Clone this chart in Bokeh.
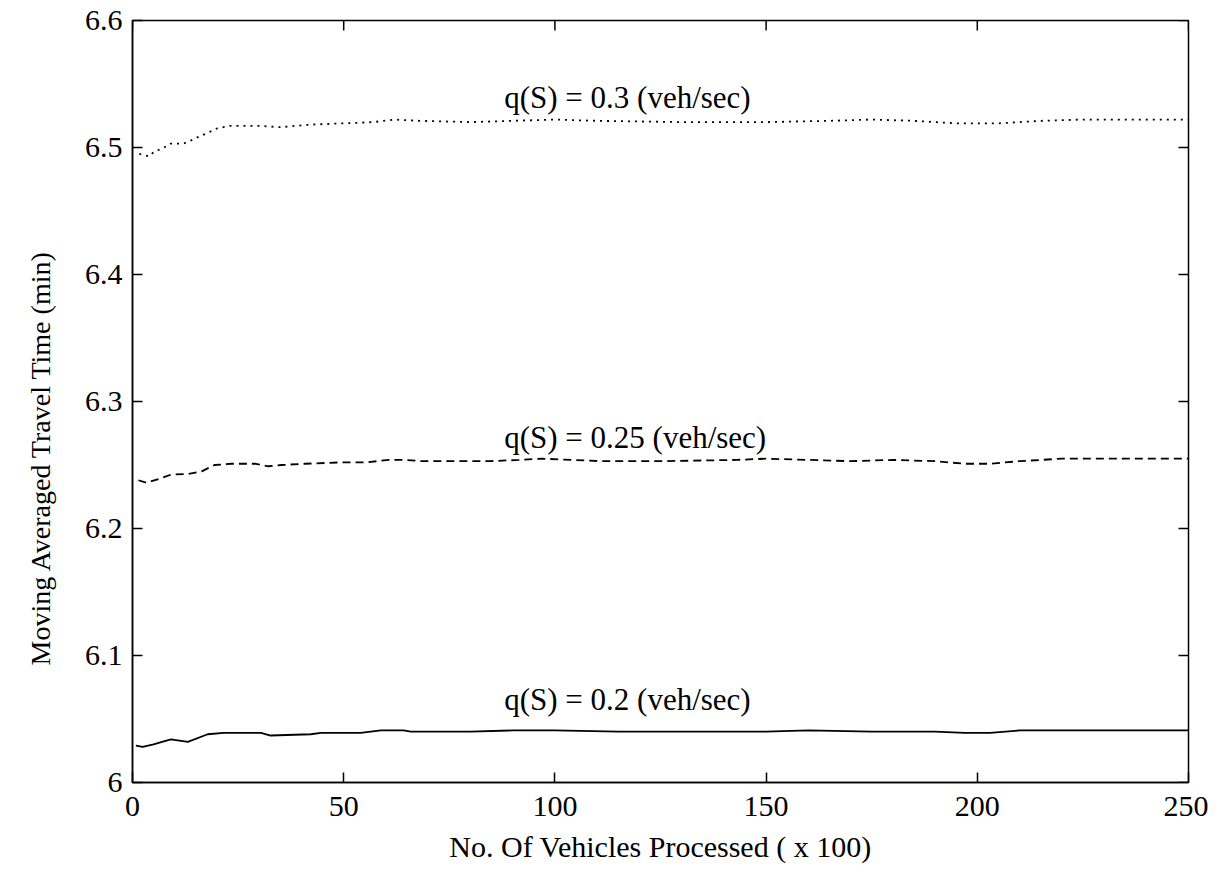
import math
from bokeh.plotting import figure
from bokeh.models import FixedTicker, Range1d, Label, Title
from bokeh.embed import file_html
from bokeh.resources import INLINE

# ---- data ----
x_q02 = [0.8, 2.4, 5, 7, 9.1, 13.1, 17.8, 21.6, 30.4, 32.7, 42.2, 44.6, 54, 58.8, 64.2, 65.9,
         80, 90, 100, 115, 130, 150, 160, 175, 190, 197, 203, 210, 225, 240, 250]
y_q02 = [6.029, 6.028, 6.030, 6.032, 6.034, 6.032, 6.038, 6.039, 6.039, 6.037, 6.038, 6.039,
         6.039, 6.041, 6.041, 6.040, 6.040, 6.041, 6.041, 6.040, 6.040, 6.040, 6.041, 6.040,
         6.040, 6.039, 6.039, 6.041, 6.041, 6.041, 6.041]

x_q025 = [1.4, 3.3, 6.2, 9.2, 13.3, 16.4, 19.4, 23.5, 28.9, 32.2, 35.3, 40.8, 48.8, 55, 60.7,
          64.5, 68.5, 76.3, 84.4, 91.5, 97, 111, 125, 143, 150, 160, 170, 180, 190, 197, 203,
          210, 220, 250]
y_q025 = [6.238, 6.236, 6.239, 6.2425, 6.243, 6.245, 6.250, 6.251, 6.251, 6.249, 6.250, 6.251,
          6.252, 6.252, 6.254, 6.254, 6.253, 6.253, 6.253, 6.254, 6.255, 6.253, 6.253, 6.254,
          6.255, 6.254, 6.253, 6.254, 6.253, 6.251, 6.251, 6.253, 6.255, 6.255]

x_q03 = [1.6, 4, 5.2, 7, 9, 12, 13.5, 16, 17.5, 20, 23, 30, 35, 42, 50, 57, 62, 68, 80, 90, 100,
         110, 130, 150, 165, 175, 185, 195, 205, 215, 225, 250]
y_q03 = [6.495, 6.493, 6.497, 6.499, 6.503, 6.503, 6.505, 6.509, 6.511, 6.515, 6.517, 6.517,
         6.516, 6.518, 6.519, 6.520, 6.522, 6.521, 6.520, 6.521, 6.522, 6.521, 6.520, 6.520,
         6.521, 6.522, 6.521, 6.519, 6.519, 6.521, 6.522, 6.522]

labels = ["q(S) = 0.3 (veh/sec)", "q(S) = 0.25 (veh/sec)", "q(S) = 0.2 (veh/sec)"]
label_y = [6.539, 6.272, 6.065]
label_x = 88

x_ticks = [0, 50, 100, 150, 200, 250]
y_ticks = [6.0, 6.1, 6.2, 6.3, 6.4, 6.5, 6.6]
y_tick_labels = {6.0: "6", 6.1: "6.1", 6.2: "6.2", 6.3: "6.3", 6.4: "6.4", 6.5: "6.5", 6.6: "6.6"}

x_title = "No. Of Vehicles Processed ( x 100)"
y_title = "Moving Averaged Travel Time (min)"

FONT = "Liberation Serif"

p = figure(width=1208, height=878, output_backend="svg", toolbar_location=None,
           x_range=Range1d(0, 250), y_range=Range1d(6.0, 6.6),
           min_border_left=131, min_border_right=20, min_border_top=20, min_border_bottom=96,
           background_fill_color="white", border_fill_color="white")
p.grid.visible = False
p.outline_line_color = "black"
p.outline_line_width = 1.5

p.line(x_q02, y_q02, line_color="black", line_width=1.8)
p.line(x_q025, y_q025, line_color="black", line_width=1.8, line_dash="8 5")
p.line(x_q03, y_q03, line_color="black", line_width=1.8, line_dash="2 5")

for t, yy in zip(labels, label_y):
    p.add_layout(Label(x=label_x, y=yy, text=t, text_font=FONT, text_font_size="31px",
                       text_align="left", text_baseline="middle", text_color="black"))

def style_axis(ax):
    ax.major_tick_in = 10
    ax.major_tick_out = 0
    ax.minor_tick_line_color = None
    ax.axis_line_color = "black"
    ax.axis_line_width = 1.5
    ax.major_tick_line_width = 1.5
    ax.major_label_text_font = FONT
    ax.major_label_text_font_size = "30px"
    ax.major_label_text_color = "black"
    ax.axis_label_text_font = FONT
    ax.axis_label_text_font_style = "normal"
    ax.axis_label_text_color = "black"

xa = p.xaxis[0]
xa.ticker = FixedTicker(ticks=x_ticks)
xa.axis_label = x_title
style_axis(xa)
xa.axis_label_text_font_size = "30px"
xa.major_label_standoff = 14
xa.axis_label_standoff = 11

ya = p.yaxis[0]
ya.ticker = FixedTicker(ticks=y_ticks)
ya.major_label_overrides = y_tick_labels
style_axis(ya)
ya.major_label_standoff = 10

# y-axis title as a side title, shifted down a little as in the reference
p.add_layout(Title(text=y_title, align="left", offset=117, vertical_align="top", standoff=48,
                   text_font=FONT, text_font_size="28px", text_font_style="normal",
                   text_color="black"), "left")

# mirrored inward ticks on the top and right edges
p.ray(x=x_ticks, y=[6.6] * len(x_ticks), length=10, length_units="screen",
      angle=-math.pi / 2, line_color="black", line_width=1.5)
p.ray(x=[250] * len(y_ticks), y=y_ticks, length=10, length_units="screen",
      angle=math.pi, line_color="black", line_width=1.5)

open("out.html", "w").write(file_html(p, INLINE))
